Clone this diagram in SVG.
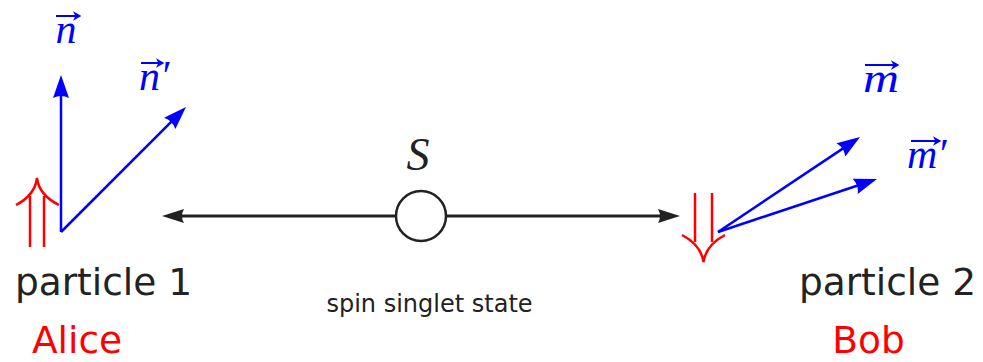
<svg xmlns="http://www.w3.org/2000/svg" width="983" height="362" viewBox="0 0 983 362">
<style>
.sans{font-family:"DejaVu Sans","Liberation Sans",sans-serif;fill:#222}
.lbl{font-size:37.5px}
.red{fill:#ff0000}
.math{font-family:"Liberation Serif","Times New Roman",serif;font-style:italic}
.blue{fill:#0000ff}
.bl{stroke:#0000ff;stroke-width:2.5;fill:none}
.rd{stroke:#ff0000;stroke-width:2.5;fill:none}
.blk{stroke:#222;stroke-width:3;fill:none}
.acc{stroke:#0000ff;stroke-width:2;fill:none}
</style>
<defs>
<marker id="ab" markerUnits="userSpaceOnUse" markerWidth="30" markerHeight="30" viewBox="-25 -10 30 20" refX="-10" refY="0" orient="auto" overflow="visible">
<path d="M0,0 L-23,-8 Q-19,0 -23,8 Z" fill="#0000ff"/>
</marker>
<marker id="ak" markerUnits="userSpaceOnUse" markerWidth="30" markerHeight="30" viewBox="-25 -10 30 20" refX="-10" refY="0" orient="auto" overflow="visible">
<path d="M0,0 L-22,-7 Q-18,0 -22,7 Z" fill="#222"/>
</marker>
<marker id="av" markerUnits="userSpaceOnUse" markerWidth="12" markerHeight="12" viewBox="-8 -5 10 10" refX="-2" refY="0" orient="auto" overflow="visible">
<path d="M0,0 L-7,-4 L-5,0 L-7,4 Z" fill="#0000ff"/>
</marker>
</defs>

<g id="connectors">
<line class="blk" x1="421" y1="216" x2="172" y2="216" marker-end="url(#ak)"/>
<line class="blk" x1="421" y1="216" x2="670" y2="216" marker-end="url(#ak)"/>
<line class="bl" x1="61" y1="232" x2="61" y2="85" marker-end="url(#ab)"/>
<line class="bl" x1="61" y1="232" x2="178.9" y2="114.1" marker-end="url(#ab)"/>
<line class="bl" x1="718" y1="232" x2="851.7" y2="142.6" marker-end="url(#ab)"/>
<line class="bl" x1="718" y1="232" x2="867.5" y2="182.2" marker-end="url(#ab)"/>
</g>

<g id="source-S">
<circle cx="421" cy="216" r="25" fill="#fff" stroke="#222" stroke-width="2.5"/>
<text class="math" x="418" y="170" font-size="46" text-anchor="middle" fill="#222">S</text>
<text class="sans" x="429.5" y="312" font-size="24" text-anchor="middle">spin singlet state</text>
</g>

<g id="particle1">
<path class="rd" d="M30,247 V196 M44,247 V196 M16,205 Q35,195 37,178 Q39,195 59,205"/>
<text class="sans lbl" x="103.5" y="295" text-anchor="middle">particle 1</text>
<text class="sans lbl red" x="77" y="353" text-anchor="middle">Alice</text>
</g>

<g id="particle2">
<path class="rd" d="M695,193 V242 M712,193 V242 M682,235 Q701,245 703.5,262 Q706,245 725,235"/>
<text class="sans lbl" x="887.5" y="295" text-anchor="middle">particle 2</text>
<text class="sans lbl red" x="868.5" y="353" text-anchor="middle">Bob</text>
</g>

<g id="label-n">
<text class="math blue" x="66" y="43" font-size="42" text-anchor="middle">n</text>
<line class="acc" x1="56" y1="16" x2="79" y2="16" marker-end="url(#av)"/>
</g>
<g id="label-n-prime">
<text class="math blue" x="139" y="90" font-size="42">n′</text>
<line class="acc" x1="141" y1="63" x2="162" y2="63" marker-end="url(#av)"/>
</g>
<g id="label-m">
<text class="math blue" x="881" y="92" font-size="42" text-anchor="middle" textLength="36" lengthAdjust="spacingAndGlyphs">m</text>
<line class="acc" x1="865" y1="65" x2="897" y2="65" marker-end="url(#av)"/>
</g>
<g id="label-m-prime">
<text class="math blue" x="907" y="168" font-size="42">m′</text>
<line class="acc" x1="911" y1="141" x2="939" y2="141" marker-end="url(#av)"/>
</g>
</svg>
